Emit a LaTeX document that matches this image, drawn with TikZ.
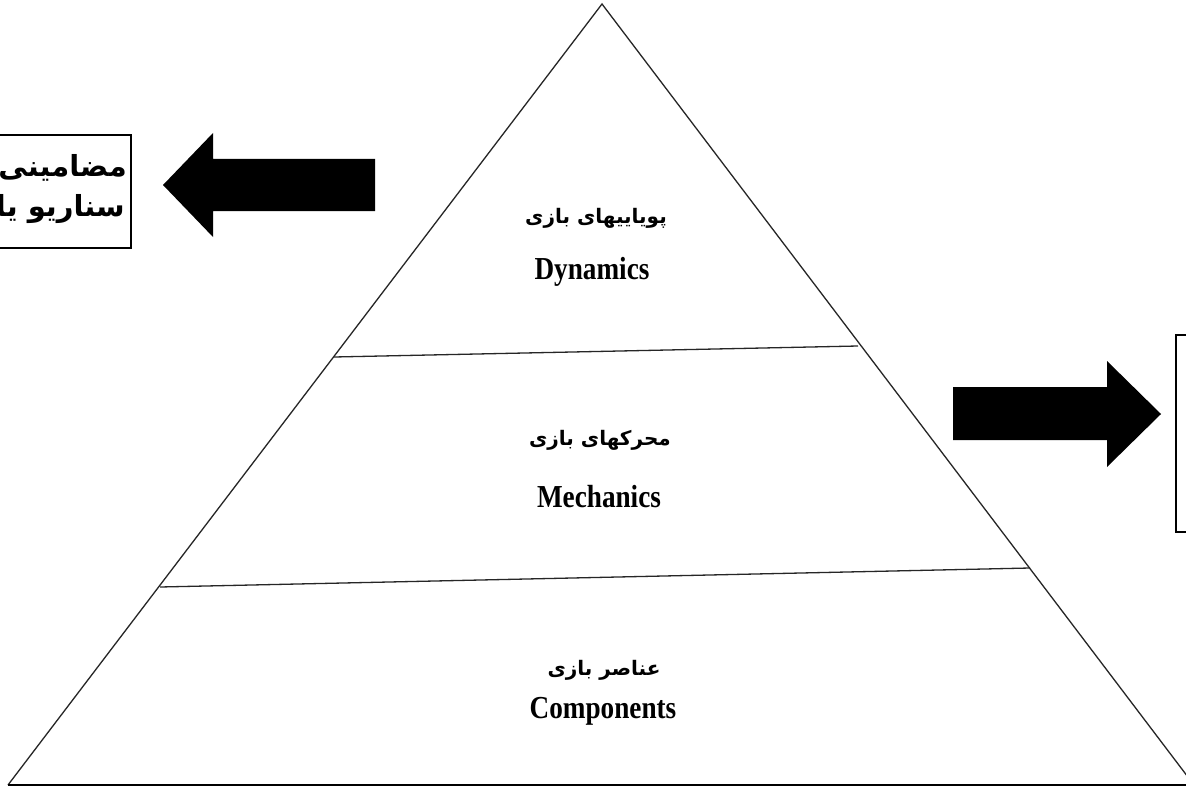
\documentclass[tikz,border=0pt]{standalone}
\usepackage{fontspec}
\TeXXeTstate=1
\newfontfamily\arabicfont[Script=Arabic]{DejaVu Sans}
\newfontfamily\condserif[FakeStretch=0.85]{Liberation Serif}
\begin{document}
\begin{tikzpicture}[x=1pt,y=-1pt,
  edge/.style={draw=black!85,line width=1.3pt},
  fa/.style={font=\arabicfont\bfseries\fontsize{20}{24}\selectfont,inner sep=0pt},
  en/.style={font=\condserif\bfseries\fontsize{32}{36}\selectfont,inner sep=0pt},
  lefttext/.style={font=\arabicfont\bfseries\fontsize{29}{34}\selectfont,inner sep=0pt,anchor=east},
  box/.style={draw=black,line width=1.4pt},
  bigarrow/.style={fill=black,draw=none}]
\useasboundingbox (0,0) rectangle (1186,789);
\clip (0,0) rectangle (1186,789);
\fill[white] (0,0) rectangle (1186,789);
% pyramid
\coordinate (apex) at (602,4);
\coordinate (bl) at (8,785);
\coordinate (br) at (1194,785);
\coordinate (l1) at (334,357);
\coordinate (r1) at (858,346);
\coordinate (l2) at (160,587);
\coordinate (r2) at (1030,568);
\draw[edge] (bl) -- (apex) -- (br);
\draw[draw=black,line width=2pt] (bl) -- (br);
\draw[edge] (l1) -- (r1);
\draw[edge] (l2) -- (r2);
% labels
\node[fa] (dynfa) at (596,218) {\beginR پویاییهای بازی\endR};
\node[en] (dynen) at (592,272) {Dynamics};
\node[fa] (mecfa) at (600,440) {\beginR محرکهای بازی\endR};
\node[en] (mecen) at (599,497) {Mechanics};
\node[fa] (comfa) at (604,670) {\beginR عناصر بازی\endR};
\node[en] (comen) at (603,711) {Components};
% left box
\draw[box] (-5,135) rectangle (131,248);
\node[lefttext] (lt1) at (127,168) {\beginR مضامینی\endR};
\node[lefttext] (lt2) at (125,209) {\beginR سناریو یا\endR};
% left arrow
\fill[bigarrow] (163,185) -- (213,133) -- (213,159) -- (375,159) -- (375,211) -- (213,211) -- (213,237) -- cycle;
% right arrow
\fill[bigarrow] (1161,414) -- (1107,361) -- (1107,387) -- (953,387) -- (953,440) -- (1107,440) -- (1107,467) -- cycle;
% right box
\draw[box] (1176,335) rectangle (1200,532);
\end{tikzpicture}
\end{document}
